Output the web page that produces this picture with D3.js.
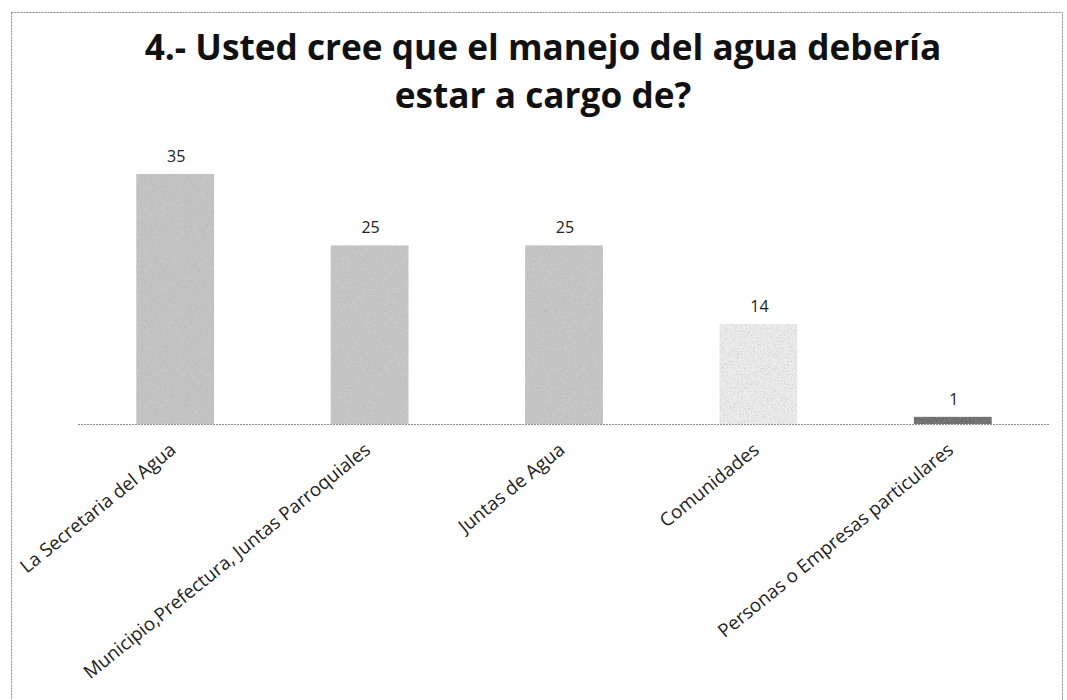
<!DOCTYPE html>
<html>
<head>
<meta charset="utf-8">
<script src="https://cdn.jsdelivr.net/npm/d3@7"></script>
<style>
  body { margin: 0; background: #fff; }
  svg { display: block; }
</style>
</head>
<body>
<div id="chart"></div>
<script>
const categories = [
    "La Secretaria del Agua",
    "Municipio,Prefectura, Juntas Parroquiales",
    "Juntas de Agua",
    "Comunidades",
    "Personas o Empresas particulares"
];
const values = [35, 25, 25, 14, 1];
const barColors = ["#c4c4c4", "#c6c6c6", "#c6c6c6", "#ececec", "#6c6c6c"];
const titleLines = ["4.- Usted cree que el manejo del agua debería", "estar a cargo de?"];

const width = 1067, height = 700;
const font = "'Open Sans', 'Liberation Sans', sans-serif";

const svg = d3.select("#chart").append("svg")
    .attr("width", width)
    .attr("height", height);

// grainy texture for the bars, like the scanned original
const defs = svg.append("defs");
const grain = defs.append("filter").attr("id", "grain")
    .attr("x", 0).attr("y", 0).attr("width", 1).attr("height", 1);
grain.append("feTurbulence")
    .attr("type", "fractalNoise")
    .attr("baseFrequency", 1.3)
    .attr("numOctaves", 1)
    .attr("seed", 3)
    .attr("result", "noise");
grain.append("feColorMatrix")
    .attr("in", "noise")
    .attr("type", "matrix")
    .attr("values", "0 0 0 0 0.4  0 0 0 0 0.4  0 0 0 0 0.4  0 0 0 -1.8 0.9")
    .attr("result", "dots");
grain.append("feComposite")
    .attr("in", "dots").attr("in2", "SourceGraphic")
    .attr("operator", "in").attr("result", "dotsIn");
grain.append("feMerge").call(m => {
    m.append("feMergeNode").attr("in", "SourceGraphic");
    m.append("feMergeNode").attr("in", "dotsIn");
});

// frame
svg.append("rect")
    .attr("x", 11.5).attr("y", 12.5)
    .attr("width", 1051).attr("height", 720)
    .attr("fill", "none")
    .attr("stroke", "#8a8a8a")
    .attr("stroke-width", 1)
    .attr("stroke-dasharray", "2,1");

// title, sized so the first line spans like the original
const title = svg.append("g").selectAll("text")
    .data(titleLines)
    .join("text")
    .attr("x", 543)
    .attr("y", (d, i) => 60 + i * 48)
    .attr("text-anchor", "middle")
    .attr("font-family", font)
    .attr("font-weight", "bold")
    .attr("font-size", 28)
    .attr("fill", "#111")
    .text(d => d);
const w0 = title.node().getComputedTextLength();
title.attr("font-size", 28 * 797 / w0);

const x = d3.scaleBand()
    .domain(categories)
    .range([78, 1050])
    .paddingInner(0.6)
    .paddingOuter(0.3);

const y = d3.scaleLinear()
    .domain([0, 35])
    .range([424, 174]);

// bars
svg.append("g").selectAll("rect")
    .data(values)
    .join("rect")
    .attr("x", (d, i) => x(categories[i]))
    .attr("y", d => y(d))
    .attr("width", x.bandwidth())
    .attr("height", d => y(0) - y(d))
    .attr("fill", (d, i) => barColors[i])
    .attr("filter", "url(#grain)");

// baseline
svg.append("line")
    .attr("x1", 78).attr("x2", 1050)
    .attr("y1", y(0) + 0.5).attr("y2", y(0) + 0.5)
    .attr("stroke", "#8a8a8a")
    .attr("stroke-width", 1)
    .attr("stroke-dasharray", "2,1");

// value labels
svg.append("g").selectAll("text")
    .data(values)
    .join("text")
    .attr("x", (d, i) => x(categories[i]) + x.bandwidth() / 2 + 1)
    .attr("y", d => y(d) - 12)
    .attr("text-anchor", "middle")
    .attr("font-family", font)
    .attr("font-size", 16)
    .attr("fill", "#222")
    .text(d => d);

// category labels, rotated
svg.append("g").selectAll("text")
    .data(categories)
    .join("text")
    .attr("transform", d => {
        const cx = x(d) + x.bandwidth() / 2 + 2;
        return "translate(" + cx + "," + 452 + ") rotate(-39)";
    })
    .attr("text-anchor", "end")
    .attr("font-family", font)
    .attr("font-size", 18.8)
    .attr("fill", "#222")
    .text(d => d);
</script>
</body>
</html>
